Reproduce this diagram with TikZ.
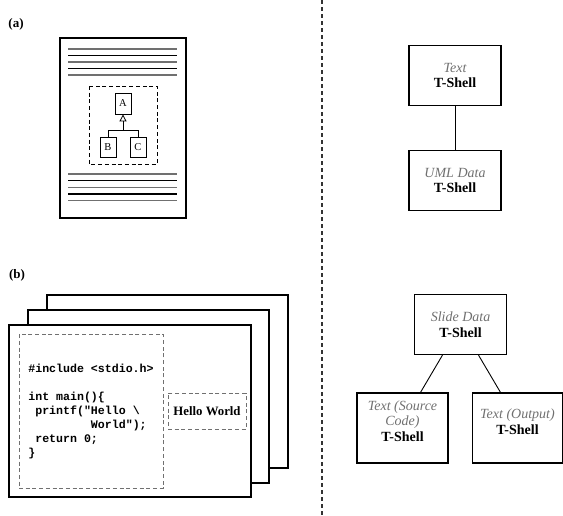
\documentclass[tikz,border=0pt]{standalone}
\usepackage{fontspec}
\setmainfont{Liberation Serif}
\setmonofont{Liberation Mono}
\usetikzlibrary{arrows.meta}

\definecolor{softgray}{HTML}{707070}

\tikzset{
  sheet/.style={draw,line width=1.8pt,fill=white},
  frame/.style={draw,dashed,dash pattern=on 4pt off 2.7pt,line width=0.9pt},
  shellbox/.style={draw,line width=1.2pt,minimum width=92pt,minimum height=60pt,
    align=center,font=\fontsize{14}{15.5}\selectfont},
  umlbox/.style={draw,line width=0.8pt,minimum width=16pt,minimum height=20pt,
    inner sep=0pt,font=\fontsize{10.5}{12}\selectfont},
  tag/.style={font=\bfseries\fontsize{13}{15}\selectfont}
}
\newcommand{\kind}[1]{{\color{softgray}\itshape #1}}
\newcommand{\shell}{\textbf{T-Shell}}

\begin{document}
\begin{tikzpicture}[x=1pt,y=-1pt]
    \useasboundingbox (0,0) rectangle (563,515);

    \node[tag] (taga) at (16,24) {(a)};
    \node[tag] (tagb) at (17,275) {(b)};

    % separator
    \draw[dashed,dash pattern=on 4pt off 3pt,line width=1.2pt,black!80] (322,0) -- (322,515);

    % (a) a page with an embedded class diagram
    \draw[sheet] (60,38) rectangle (186,218);
    \foreach \y / \c in {49/softgray, 55.5/black, 62/softgray, 68.5/black, 75/softgray,
                         174/softgray, 180.7/black, 187.3/softgray, 194/black, 200.7/softgray} {
      \draw[\c,line width=1.1pt] (68,\y) -- (177,\y);
    }
    \draw[frame] (89,86) rectangle (157,164);
    \node[umlbox,minimum height=21pt] (A) at (123,103.5) {A};
    \node[umlbox] (B) at (108,147) {B};
    \node[umlbox] (C) at (138,147) {C};
    \coordinate (join) at (123,130.5);
    \draw[line width=0.8pt] (B.north) |- (join) -| (C.north);
    \draw[line width=0.8pt,-{Triangle[open,length=7pt,width=7pt]}] (join) -- (A.south);

    \node[shellbox] (text) at (455,75.5) {\kind{Text}\\ \shell};
    \node[shellbox] (uml) at (455,180.5) {\kind{UML Data}\\ \shell};
    \draw[line width=0.9pt] (text) -- (uml);

    % (b) a stack of slides
    \draw[sheet] (47,295) rectangle (288,468);
    \draw[sheet] (28,310) rectangle (269,483);
    \draw[sheet] (9,325) rectangle (251,497);
    \node[frame,draw=softgray,minimum width=144pt,minimum height=154pt,align=left,
          font=\ttfamily\bfseries\fontsize{11.6}{14}\selectfont] (code) at (91,411)
      {\#include <stdio.h>\\[14pt]
       int main()\{\\
       \phantom{x}printf("Hello \textbackslash\\
       \phantom{xxxxxxxxx}World");\\
       \phantom{x}return 0;\\
       \}};
    \node[frame,draw=softgray,minimum width=78pt,minimum height=36pt,inner sep=2pt,
          font=\bfseries\fontsize{12.8}{14}\selectfont] (output) at (207,411) {Hello World};

    \node[shellbox] (slide) at (460.5,324.5) {\kind{Slide Data}\\ \shell};
    \node[shellbox,minimum width=91pt,minimum height=70pt,text depth=14pt] (src) at (402.5,428)
      {\kind{Text (Source}\\ \kind{Code)}\\ \shell};
    \node[shellbox,minimum width=90pt,minimum height=70pt,text depth=13pt] (out) at (517.5,428)
      {\kind{Text (Output)}\\ \shell};
    \draw[line width=0.9pt] ([xshift=-18pt]slide.south) -- ([xshift=18pt]src.north);
    \draw[line width=0.9pt] ([xshift=18pt]slide.south) -- ([xshift=-17pt]out.north);
\end{tikzpicture}
\end{document}
